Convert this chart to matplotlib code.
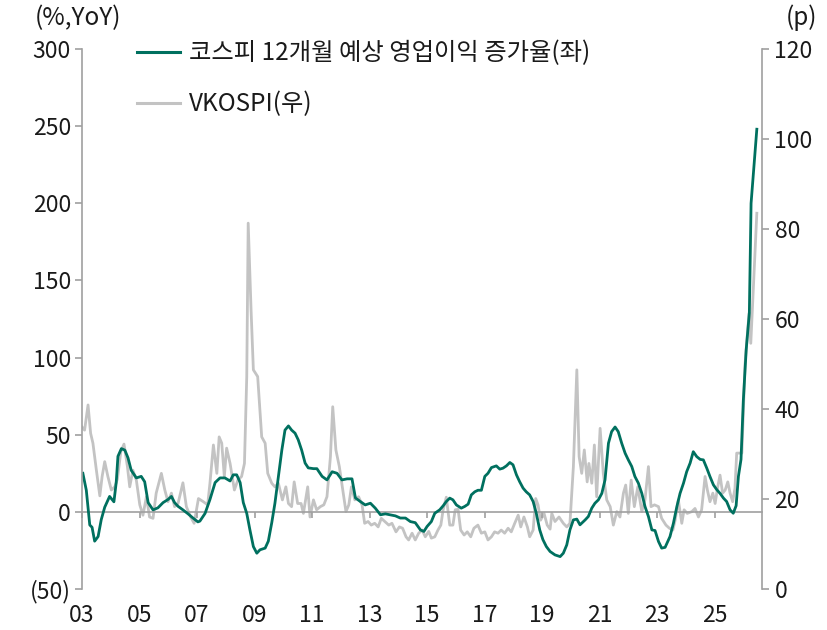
import matplotlib
matplotlib.use('Agg')
import matplotlib.pyplot as plt
from matplotlib.ticker import FuncFormatter
from matplotlib.lines import Line2D

plt.rcParams['font.family'] = ['Noto Sans CJK KR', 'DejaVu Sans']

# ---- data: KOSPI 12M forward operating profit growth (%, YoY), left axis ----
eps_dates = [2003.03, 2003.15, 2003.27, 2003.35, 2003.44, 2003.56, 2003.67, 2003.79, 2003.96,
             2004.11, 2004.19, 2004.25, 2004.37, 2004.49, 2004.60, 2004.71, 2004.89,
             2005.06, 2005.18, 2005.30, 2005.47, 2005.64, 2005.82, 2005.99,
             2006.11, 2006.22, 2006.34, 2006.51, 2006.69, 2006.86,
             2007.03, 2007.10, 2007.28, 2007.45, 2007.63, 2007.80, 2007.97,
             2008.15, 2008.26, 2008.38, 2008.50, 2008.61, 2008.73, 2008.84, 2008.96,
             2009.08, 2009.19, 2009.37, 2009.48, 2009.60, 2009.71, 2009.83, 2009.95,
             2010.06, 2010.18, 2010.29, 2010.41, 2010.52, 2010.64, 2010.76, 2010.87,
             2011.05, 2011.17, 2011.35, 2011.52, 2011.70, 2011.87,
             2012.04, 2012.22, 2012.39, 2012.51, 2012.68, 2012.85,
             2013.03, 2013.20, 2013.38, 2013.55, 2013.72, 2013.90,
             2014.07, 2014.25, 2014.42, 2014.59, 2014.77, 2014.89,
             2015.00, 2015.15, 2015.27, 2015.44, 2015.56, 2015.67, 2015.79, 2015.90,
             2016.02, 2016.19, 2016.31, 2016.43, 2016.54, 2016.66, 2016.77, 2016.89,
             2017.01, 2017.12, 2017.24, 2017.41, 2017.53, 2017.64, 2017.76, 2017.88, 2017.99,
             2018.11, 2018.22, 2018.34, 2018.45, 2018.57, 2018.69, 2018.80, 2018.92,
             2019.03, 2019.15, 2019.28, 2019.45, 2019.63, 2019.74, 2019.86, 2019.97,
             2020.09, 2020.21, 2020.32, 2020.50, 2020.61, 2020.73, 2020.84, 2020.96,
             2021.08, 2021.19, 2021.31, 2021.42, 2021.54, 2021.65, 2021.77, 2021.89,
             2022.00, 2022.12, 2022.23, 2022.35, 2022.47, 2022.58, 2022.70, 2022.82, 2022.93,
             2023.05, 2023.16, 2023.28, 2023.45, 2023.57, 2023.69, 2023.80, 2023.92,
             2024.03, 2024.15, 2024.26, 2024.38, 2024.50, 2024.61, 2024.73, 2024.84, 2024.96,
             2025.08, 2025.19, 2025.31, 2025.42, 2025.54, 2025.65, 2025.75, 2025.83, 2025.92,
             2026.00, 2026.10, 2026.21, 2026.27, 2026.47]
eps_growth = [25, 14, -8.5, -10, -19, -16, -5, 3, 10,
              6.5, 19, 36, 41, 40, 35, 27, 22,
              23, 19.5, 6, 1.3, 2.6, 6, 8,
              10, 6, 3.6, 1.3, -1.3, -4,
              -6.5, -6, -1, 8, 19, 22, 22,
              20, 24, 24, 19, 6, -1, -11.7, -22.5,
              -26.8, -24.6, -23.5, -19, -7, 5.6, 23, 40,
              53, 55.7, 53, 51, 46.7, 40, 31.6, 28.5,
              28, 28, 23, 20.7, 26, 25,
              20.7, 21.4, 21.4, 9, 6.7, 4.5,
              5.6, 2.4, -1.9, -1.3, -1.9, -2.6,
              -4, -4, -6.3, -7, -11.7, -12.7,
              -9.5, -6.3, -0.9, 1.3, 3.9, 6.7, 8.9, 7.8,
              4.5, 2.4, 3.5, 5, 11, 13, 14, 14,
              23, 25, 28.7, 29.8, 27.7, 28.3, 29.8, 32, 30.5,
              24, 19.6, 15.4, 13, 11, 6.7, -0.9, -11.7,
              -18, -22.5, -25.7, -27.9, -29, -26.8, -21.4, -11.7,
              -5.2, -4.7, -8.4, -5.2, -3, 2.4, 5.6, 7.8,
              12, 20.7, 44.5, 52, 55, 52, 44.5, 38,
              33.7, 29.4, 22.9, 18.6, 12, 3.5, -3, -11.7, -12.1,
              -19.2, -23.5, -23, -16, -7.3, 3.5, 12, 18.6,
              26, 31.6, 39, 35.8, 34, 33.7, 28.3, 22.9, 17.5,
              14.3, 12, 8.9, 6.7, 1.3, -0.9, 4, 23, 34,
              72, 105, 129, 200, 248]

# ---- data: VKOSPI (p), right axis ----
vk_dates = [2003.00, 2003.09, 2003.21, 2003.30, 2003.38, 2003.50, 2003.62, 2003.70, 2003.79, 2003.90,
            2004.02, 2004.14, 2004.23, 2004.35, 2004.46, 2004.58, 2004.66, 2004.77, 2004.89,
            2005.01, 2005.12, 2005.24, 2005.35, 2005.47, 2005.58, 2005.76, 2005.88, 2005.99,
            2006.11, 2006.22, 2006.34, 2006.51, 2006.63, 2006.78, 2006.90,
            2007.05, 2007.22, 2007.37, 2007.45, 2007.57, 2007.69, 2007.77, 2007.86, 2007.95,
            2008.03, 2008.15, 2008.30, 2008.42, 2008.55, 2008.65, 2008.73, 2008.78, 2008.88, 2008.96,
            2009.11, 2009.25, 2009.37, 2009.46, 2009.60, 2009.71, 2009.83, 2009.97,
            2010.09, 2010.18, 2010.29, 2010.38, 2010.50, 2010.62, 2010.70, 2010.85, 2010.93,
            2011.05, 2011.16, 2011.29, 2011.41, 2011.52, 2011.64, 2011.72, 2011.83, 2011.95,
            2012.07, 2012.18, 2012.28, 2012.37, 2012.49, 2012.62, 2012.74, 2012.83, 2012.95,
            2013.06, 2013.18, 2013.30, 2013.41, 2013.53, 2013.67, 2013.78, 2013.92,
            2014.04, 2014.15, 2014.27, 2014.36, 2014.48, 2014.59, 2014.71, 2014.83, 2014.94,
            2015.06, 2015.15, 2015.27, 2015.38, 2015.48, 2015.56, 2015.67, 2015.79, 2015.90, 2015.98,
            2016.08, 2016.17, 2016.29, 2016.40, 2016.52, 2016.63, 2016.77, 2016.89,
            2017.01, 2017.12, 2017.24, 2017.35, 2017.47, 2017.58, 2017.70, 2017.82, 2017.93,
            2018.05, 2018.17, 2018.26, 2018.37, 2018.49, 2018.57, 2018.69, 2018.78, 2018.86, 2018.95,
            2019.07, 2019.18, 2019.28, 2019.34, 2019.45, 2019.59, 2019.74, 2019.86, 2019.97,
            2020.09, 2020.21, 2020.29, 2020.38, 2020.47, 2020.57, 2020.63, 2020.73, 2020.82, 2020.90,
            2021.02, 2021.13, 2021.25, 2021.37, 2021.48, 2021.60, 2021.71, 2021.83, 2021.91,
            2022.00, 2022.10, 2022.21, 2022.33, 2022.47, 2022.58, 2022.70, 2022.79, 2022.91,
            2023.05, 2023.16, 2023.31, 2023.43, 2023.55, 2023.63, 2023.74, 2023.86, 2023.94,
            2024.05, 2024.21, 2024.32, 2024.44, 2024.55, 2024.67, 2024.75, 2024.84, 2024.94,
            2025.02, 2025.11, 2025.19, 2025.28, 2025.37, 2025.46, 2025.54, 2025.63, 2025.71, 2025.77,
            2025.95, 2026.06, 2026.20, 2026.26, 2026.47]
vkospi = [36, 35.3, 40.9, 34.6, 32.4, 26.4, 20.7, 25, 28.3, 25,
          22, 22.7, 24.4, 30.5, 32.2, 27.2, 22.7, 26.4, 24.2,
          18.7, 16.4, 20.5, 16, 15.7, 21.3, 25.7, 22, 19.4,
          21.3, 18.3, 19, 23.6, 18.3, 16, 14.6,
          20.1, 19.4, 18.7, 23.5, 32, 25.7, 33.8, 32.4, 25,
          31.3, 27.9, 22, 24.2, 25, 27.9, 47.2, 81.3, 62, 48.7,
          47.2, 33.8, 32.4, 25.7, 23.5, 22.7, 23.5, 19.8,
          22.7, 19, 18.3, 23.8, 19, 19, 16.8, 22.7, 16,
          19.8, 17.6, 18.3, 18.7, 20.5, 29.4, 40.5, 30.9, 27.2,
          22, 17.2, 18.7, 22.7, 19.8, 20.5, 18.7, 14.6, 15,
          14.2, 14.6, 13.8, 15.7, 15, 14.2, 14.6, 12.7,
          13.8, 13.5, 11.6, 10.9, 12.4, 10.9, 12.4, 13.1, 11.6,
          12.8, 11.3, 11.6, 13.1, 14.2, 17.6, 20.4, 14.2, 14.2, 17.6,
          17.7, 13.1, 12, 12.7, 11.6, 13.5, 14.2, 12.4,
          12.7, 10.9, 11.6, 12.7, 12.4, 13.1, 12.4, 13.5, 12.7,
          14.6, 16.4, 13.8, 16, 13.8, 11.6, 13.1, 20.1, 18.7, 15.3,
          16.8, 14.2, 13.3, 16.8, 15, 16, 14.6, 13.8, 14.6,
          27.2, 48.7, 29.4, 25.7, 30.9, 23.8, 27.9, 23.5, 32, 20.5,
          35.7, 25.7, 19.8, 18.3, 14.2, 17.2, 16, 21.3, 23.1,
          16.8, 24.2, 18.3, 22.7, 17.2, 19.8, 27.2, 18.3, 18.7,
          18.3, 15.7, 14.2, 13.5, 13.1, 15.3, 19.8, 14.6, 17.6,
          16.8, 17.2, 17.9, 16, 17.6, 25, 22, 19.4, 21.3,
          19, 22.7, 25.3, 21.3, 22, 23.8, 21.3, 19.4, 22.4, 30.2,
          30.2, 50, 61.3, 54.6, 83.5]

year_ticks = [2003, 2005, 2007, 2009, 2011, 2013, 2015, 2017, 2019, 2021, 2023, 2025]
year_labels = ['03', '05', '07', '09', '11', '13', '15', '17', '19', '21', '23', '25']
left_ticks = [-50, 0, 50, 100, 150, 200, 250, 300]
right_ticks = [0, 20, 40, 60, 80, 100, 120]
label_eps = '코스피 12개월 예상 영업이익 증가율(좌)'
label_vk = 'VKOSPI(우)'

GREEN = '#00705F'
GRAY = '#C3C3C3'
SPINE = '#A0A0A0'
TXT = '#1A1A1A'
FS = 16.5
FS_LEG = 17.5

fig = plt.figure(figsize=(8.27, 6.3), dpi=100)
ax = fig.add_axes([82 / 827, 1 - 589 / 630, 680 / 827, 540 / 630])
ax2 = ax.twinx()

ax2.plot(vk_dates, vkospi, color=GRAY, lw=2.0, solid_joinstyle='round')
ax.plot(eps_dates, eps_growth, color=GREEN, lw=2.0, solid_joinstyle='round')
ax.set_zorder(ax2.get_zorder() + 1)
ax.patch.set_visible(False)

ax.set_xlim(2003.0, 2026.65)
ax.set_ylim(-50, 300)
ax2.set_ylim(0, 120)
ax.set_yticks(left_ticks)
ax2.set_yticks(right_ticks)
ax.yaxis.set_major_formatter(FuncFormatter(lambda v, p: f'({abs(int(v))})' if v < 0 else f'{int(v)}'))

for a in (ax, ax2):
    a.spines['top'].set_visible(False)
    a.spines['bottom'].set_visible(False)
ax.spines['right'].set_visible(False)
ax2.spines['left'].set_visible(False)
ax.spines['left'].set_color(SPINE)
ax.spines['left'].set_linewidth(1.2)
ax2.spines['right'].set_color(SPINE)
ax2.spines['right'].set_linewidth(1.2)

ax.tick_params(axis='y', direction='out', length=5, width=1.2, color=SPINE, pad=3,
               labelsize=FS, labelcolor=TXT)
ax2.tick_params(axis='y', direction='out', length=5, width=1.2, color=SPINE, pad=4,
                labelsize=FS, labelcolor=TXT)

ax.set_xticks(year_ticks)
ax.set_xticklabels(year_labels)
ax.tick_params(axis='x', length=0, pad=11, labelsize=FS, labelcolor=TXT)

sec = ax.secondary_xaxis(50 / 350)
sec.set_xticks(year_ticks)
sec.tick_params(axis='x', direction='out', length=4, width=1.2, color=SPINE, labelbottom=False)
sec.spines['bottom'].set_color(SPINE)
sec.spines['bottom'].set_linewidth(1.2)

handles = [Line2D([], [], color=GREEN, lw=2.2), Line2D([], [], color=GRAY, lw=2.2)]
leg = ax.legend(handles, [label_eps, label_vk], loc='upper left',
                bbox_to_anchor=(55 / 680, 1.016), frameon=False, fontsize=FS_LEG,
                handlelength=1.75, handletextpad=0.4, labelspacing=1.03,
                borderpad=0, borderaxespad=0)
for t in leg.get_texts():
    t.set_color(TXT)

fig.text(78 / 827, 1 - 18 / 630, '(%,YoY)', ha='center', va='center', fontsize=FS_LEG, color=TXT)
fig.text(801 / 827, 1 - 18 / 630, '(p)', ha='center', va='center', fontsize=FS_LEG, color=TXT)

fig.savefig('out.png', dpi=100)
